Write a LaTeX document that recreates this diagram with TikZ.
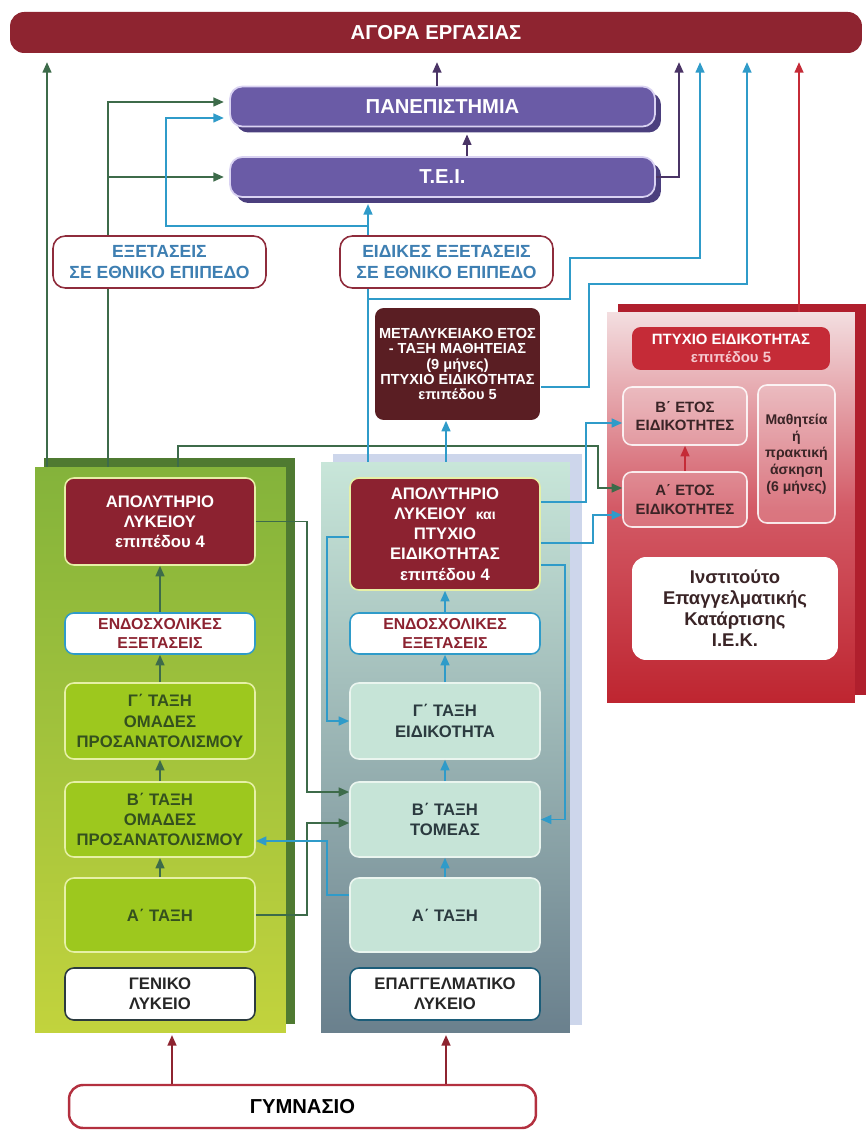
\documentclass[tikz,border=0pt]{standalone}
\usepackage{fontspec}
\setmainfont{Liberation Sans}
\usetikzlibrary{arrows.meta,shadows}

\definecolor{barred}{HTML}{8E2430}
\definecolor{apored}{HTML}{8C2230}
\definecolor{metred}{HTML}{5A1E23}
\definecolor{purp}{HTML}{6A5BA6}
\definecolor{purpdark}{HTML}{4B3F7E}
\definecolor{purplight}{HTML}{D9D2F2}
\definecolor{purpline}{HTML}{4A3466}
\definecolor{lgreen}{HTML}{3D6B4A}
\definecolor{lblue}{HTML}{2F9BC9}
\definecolor{gtop}{HTML}{84B33B}
\definecolor{gbot}{HTML}{C2D33D}
\definecolor{gdark}{HTML}{4F7A31}
\definecolor{gbox}{HTML}{9DC81E}
\definecolor{gboxline}{HTML}{E6F0A6}
\definecolor{gtext}{HTML}{34501E}
\definecolor{etop}{HTML}{C8E6D9}
\definecolor{ebot}{HTML}{6A808D}
\definecolor{elav}{HTML}{CDD6EB}
\definecolor{ebox}{HTML}{C6E4D7}
\definecolor{eboxline}{HTML}{EAF5EF}
\definecolor{etext}{HTML}{2B3A3F}
\definecolor{itop}{HTML}{F3DEE0}
\definecolor{imid}{HTML}{D35A66}
\definecolor{ibot}{HTML}{BE2530}
\definecolor{idark}{HTML}{B01F2D}
\definecolor{ired}{HTML}{C52B37}
\definecolor{ipink}{HTML}{F5C9CF}
\definecolor{itext}{HTML}{3A2426}
\definecolor{exline}{HTML}{8F2C3C}
\definecolor{extext}{HTML}{3E7FB2}
\definecolor{gymline}{HTML}{B3303F}

\tikzset{
  wire/.style={line width=1.1pt, -{Triangle[length=6pt,width=5pt]}},
  greenarr/.style={wire, draw=lgreen},
  bluearr/.style={wire, draw=lblue},
  purparr/.style={wire, draw=purpline},
  iekarr/.style={wire, draw=ired},
  gymarr/.style={wire, draw=barred},
  lbl/.style={rectangle, align=center, inner sep=1pt, rounded corners=5pt, line width=0.9pt,
    font=\bfseries\fontsize{9.5}{11.5}\selectfont},
  gbx/.style={lbl, fill=gbox, draw=gboxline, text=gtext, minimum width=3.8cm},
  ebx/.style={lbl, fill=ebox, draw=eboxline, text=etext, minimum width=3.8cm},
  apo/.style={lbl, fill=apored, draw=gboxline, text=white, minimum width=3.8cm},
  endo/.style={lbl, fill=white, draw=lblue, text=apored, minimum width=3.8cm, minimum height=0.82cm,
    font=\bfseries\fontsize{9}{11}\selectfont},
  lyk/.style={lbl, fill=white, draw=etext, text=black!85, minimum width=3.8cm, minimum height=1.04cm},
  exam/.style={lbl, fill=white, draw=exline, text=extext, rounded corners=7pt,
    minimum width=4.26cm, minimum height=1.04cm, font=\bfseries\fontsize{10}{11.5}\selectfont},
  uni/.style={rectangle, rounded corners=7pt, fill=purp, draw=purplight, line width=1pt, text=white,
    font=\bfseries\fontsize{11.5}{13}\selectfont, minimum width=8.5cm, minimum height=0.8cm,
    general shadow={fill=purpdark, shadow xshift=0.12cm, shadow yshift=-0.12cm}},
  iekin/.style={lbl, fill=white, fill opacity=0.18, text opacity=1, draw=white, draw opacity=0.85,
    text=itext, font=\bfseries\fontsize{8.5}{10.5}\selectfont}
}

\begin{document}
\begin{tikzpicture}[x=0.02cm, y=-0.02cm]
\useasboundingbox (0,0) rectangle (867,1131);

% columns
\node[minimum width=5.02cm, minimum height=11.32cm, top color=gtop, bottom color=gbot,
  general shadow={fill=gdark, shadow xshift=0.18cm, shadow yshift=0.18cm}] (gel) at (160.5,750) {};
\node[minimum width=4.98cm, minimum height=11.42cm, top color=etop, bottom color=ebot,
  general shadow={fill=elav, shadow xshift=0.24cm, shadow yshift=0.16cm}] (epal) at (445.5,747.5) {};
\node[minimum width=4.96cm, minimum height=7.82cm, top color=itop, bottom color=ibot, middle color=imid,
  general shadow={fill=idark, shadow xshift=0.22cm, shadow yshift=0.16cm}] (iek) at (731,507.5) {};

\node[rectangle, rounded corners=8pt, fill=barred, text=white, minimum width=17.04cm, minimum height=0.82cm,
  font=\bfseries\fontsize{11.5}{13}\selectfont] (agora) at (436,32.5) {ΑΓΟΡΑ ΕΡΓΑΣΙΑΣ};
\node[uni] (pan) at (442.5,106.5) {ΠΑΝΕΠΙΣΤΗΜΙΑ};
\node[uni] (tei) at (442.5,177) {Τ.Ε.Ι.};
\node[lbl, fill=metred, text=white, minimum width=3.3cm, minimum height=2.24cm,
  font=\bfseries\fontsize{8.3}{8.8}\selectfont] (metal) at (457.5,364)
  {ΜΕΤΑΛΥΚΕΙΑΚΟ ΕΤΟΣ\\- ΤΑΞΗ ΜΑΘΗΤΕΙΑΣ\\(9 μήνες)\\ΠΤΥΧΙΟ ΕΙΔΙΚΟΤΗΤΑΣ\\επιπέδου 5};

\begin{scope}[every node/.style={lbl}]
  \node[apo, minimum height=1.74cm] (gapol) at (160,521.5) {ΑΠΟΛΥΤΗΡΙΟ\\ΛΥΚΕΙΟΥ\\επιπέδου 4};
  \node[endo] (gendo) at (160,633.5) {ΕΝΔΟΣΧΟΛΙΚΕΣ\\ΕΞΕΤΑΣΕΙΣ};
  \node[gbx, minimum height=1.52cm] (ggamma) at (160,721) {Γ΄ ΤΑΞΗ\\ΟΜΑΔΕΣ\\ΠΡΟΣΑΝΑΤΟΛΙΣΜΟΥ};
  \node[gbx, minimum height=1.5cm] (gbeta) at (160,819.5) {Β΄ ΤΑΞΗ\\ΟΜΑΔΕΣ\\ΠΡΟΣΑΝΑΤΟΛΙΣΜΟΥ};
  \node[gbx, minimum height=1.48cm] (galpha) at (160,915) {Α΄ ΤΑΞΗ};
  \node[lyk] (glyk) at (160,994) {ΓΕΝΙΚΟ\\ΛΥΚΕΙΟ};

  \node[apo, minimum height=2.24cm] (eapol) at (445,534)
    {ΑΠΟΛΥΤΗΡΙΟ\\ΛΥΚΕΙΟΥ\ \ {\fontsize{8}{11}\selectfont και}\\ΠΤΥΧΙΟ\\ΕΙΔΙΚΟΤΗΤΑΣ\\επιπέδου 4};
  \node[endo] (eendo) at (445,633.5) {ΕΝΔΟΣΧΟΛΙΚΕΣ\\ΕΞΕΤΑΣΕΙΣ};
  \node[ebx, minimum height=1.52cm] (egamma) at (445,721) {Γ΄ ΤΑΞΗ\\ΕΙΔΙΚΟΤΗΤΑ};
  \node[ebx, minimum height=1.5cm] (ebeta) at (445,819.5) {Β΄ ΤΑΞΗ\\ΤΟΜΕΑΣ};
  \node[ebx, minimum height=1.48cm] (ealpha) at (445,915) {Α΄ ΤΑΞΗ};
  \node[lyk, draw=lblue!60!black] (elyk) at (445,994) {ΕΠΑΓΓΕΛΜΑΤΙΚΟ\\ΛΥΚΕΙΟ};

  \node[fill=ired, text=white, minimum width=3.96cm, minimum height=0.86cm,
    font=\bfseries\fontsize{8.5}{10}\selectfont] (iptyx) at (731,348.5)
    {ΠΤΥΧΙΟ ΕΙΔΙΚΟΤΗΤΑΣ\\{\color{ipink}επιπέδου 5}};
  \node[iekin, minimum width=2.48cm, minimum height=1.16cm] (ietosB) at (685,416) {Β΄ ΕΤΟΣ\\ΕΙΔΙΚΟΤΗΤΕΣ};
  \node[iekin, minimum width=2.48cm, minimum height=1.1cm] (ietosA) at (685,499.5) {Α΄ ΕΤΟΣ\\ΕΙΔΙΚΟΤΗΤΕΣ};
  \node[iekin, minimum width=1.54cm, minimum height=2.76cm, font=\bfseries\fontsize{8}{9.5}\selectfont]
    (imath) at (796.5,454) {Μαθητεία\\ή\\πρακτική\\άσκηση\\(6 μήνες)};
  \node[fill=white, text=itext, rounded corners=8pt, minimum width=4.12cm, minimum height=2.06cm,
    font=\bfseries\fontsize{10.5}{12}\selectfont] (iinst) at (735,608.5)
    {Ινστιτούτο\\Επαγγελματικής\\Κατάρτισης\\Ι.Ε.Κ.};

  \node[fill=white, draw=gymline, line width=1.4pt, rounded corners=8pt, minimum width=9.34cm,
    minimum height=0.86cm, font=\bfseries\fontsize{11.5}{13}\selectfont] (gym) at (302.5,1106.5) {ΓΥΜΝΑΣΙΟ};
\end{scope}

\foreach \n/\x in {l1/47,l2/108,l3/178,l4/166,l5/368,l6/437,l7/467,l8/679,l9/700,l10/747,l11/799,
  lq/570,ls/589,lg/598,lb/586,lc/593,ld/565,le/327,lf/307,lm/446,ga/172,gb/446}
  \coordinate (\n) at (\x,0);
\foreach \n/\y in {hpg/102,hpb/118,hb/226,hq/299,hr/258,hs/387,ht/284,hg/446,ha/488,hc/515,
  hd/502,he/423,hf/543,hh/565,hi/537,hj/792,hk/823,hm/895,hn/841}
  \coordinate (\n) at (0,\y);

\draw[greenarr, shorten >=5pt] (gel.north -| l1) -- (agora.south -| l1);
\draw[greenarr, shorten >=3pt] (gel.north -| l2) -- (l2 |- hpg) -- (pan.west |- hpg);
\draw[greenarr, shorten >=3pt] (l2 |- tei.west) -- (tei.west);
\draw[greenarr] (gel.north -| l3) -- (l3 |- hg) -- (lg |- hg) -- (lg |- ha) -- (ietosA.west |- ha);
\draw[greenarr] (gapol.east) -- (lf |- gapol.east) -- (lf |- hj) -- (ebeta.west |- hj);
\draw[greenarr] (galpha.east) -- (lf |- galpha.east) -- (lf |- hk) -- (ebeta.west |- hk);

\draw[bluearr, shorten >=3.5pt] (epal.north -| l5) -- (tei.south -| l5);
\draw[bluearr, shorten >=3pt] (l5 |- hb) -- (l4 |- hb) -- (l4 |- hpb) -- (pan.west |- hpb);
\draw[bluearr, shorten >=5pt] (l5 |- hq) -- (lq |- hq) -- (lq |- hr) -- (l9 |- hr) -- (agora.south -| l9);
\draw[bluearr, shorten >=5pt] (metal.east |- hs) -- (ls |- hs) -- (ls |- ht) -- (l10 |- ht) -- (agora.south -| l10);
\draw[bluearr] (epal.north -| lm) -- (metal.south -| lm);
\draw[bluearr] (eapol.east |- hd) -- (lb |- hd) -- (lb |- he) -- (ietosB.west |- he);
\draw[bluearr] (eapol.east |- hf) -- (lc |- hf) -- (lc |- hc) -- (ietosA.west |- hc);
\draw[bluearr] (eapol.east |- hh) -- (ld |- hh) -- (ld |- ebeta.east) -- (ebeta.east);
\draw[bluearr] (eapol.west |- hi) -- (le |- hi) -- (le |- egamma.west) -- (egamma.west);
\draw[bluearr] (ealpha.west |- hm) -- (le |- hm) -- (le |- hn) -- (gbeta.east |- hn);

\draw[purparr, shorten >=5pt] (pan.north -| l6) -- (agora.south -| l6);
\draw[purparr, shorten >=4pt] (tei.north -| l7) -- (pan.south -| l7);
\draw[purparr, shorten >=5pt] (tei.east) -- (l8 |- tei.east) -- (agora.south -| l8);

\draw[iekarr, shorten >=5pt] (iek.north -| l11) -- (agora.south -| l11);
\draw[iekarr] (ietosA.north) -- (ietosB.south);
\draw[gymarr, shorten >=1pt] (gym.north -| ga) -- (gel.south -| ga);
\draw[gymarr, shorten >=1pt] (gym.north -| gb) -- (epal.south -| gb);

\foreach \a/\b in {galpha/gbeta, gbeta/ggamma, ggamma/gendo, gendo/gapol}
  \draw[greenarr] (\a.north) -- (\b.south);
\foreach \a/\b in {ealpha/ebeta, ebeta/egamma, egamma/eendo, eendo/eapol}
  \draw[bluearr] (\a.north) -- (\b.south);

\node[exam] (exam1) at (159.5,262) {ΕΞΕΤΑΣΕΙΣ\\ΣΕ ΕΘΝΙΚΟ ΕΠΙΠΕΔΟ};
\node[exam] (exam2) at (446.5,262) {ΕΙΔΙΚΕΣ ΕΞΕΤΑΣΕΙΣ\\ΣΕ ΕΘΝΙΚΟ ΕΠΙΠΕΔΟ};

\end{tikzpicture}
\end{document}
